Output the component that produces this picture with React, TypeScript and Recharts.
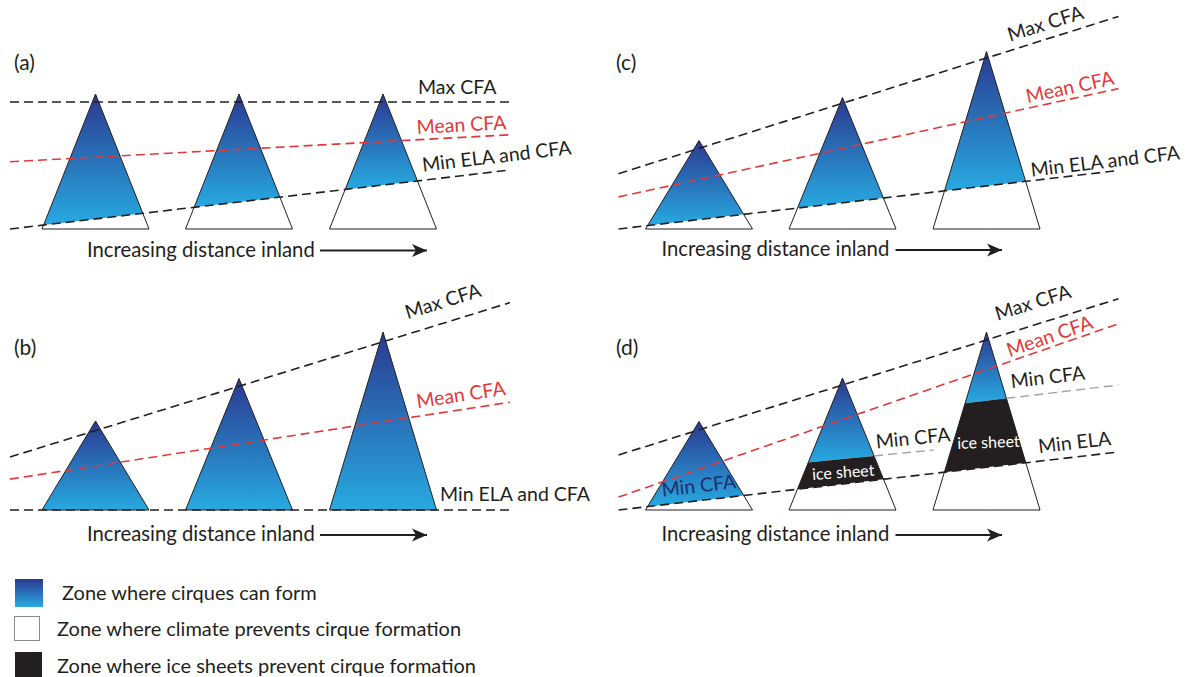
import React from "react";
import { ComposedChart, Area, Line, XAxis, YAxis, ReferenceDot } from "recharts";

const INK = "#231f20";
const RED = "#e2383a";
const GREY = "#a0a0a0";
const NAVY = "#1d2f6f";
const BLUE_TOP = "#2b3990";
const BLUE_BOTTOM = "#27aae1";
const FONT = "Lato, 'Open Sans', sans-serif";

// scale of every panel: 5 px per distance unit, 10 elevation units per px
const PX_PER_X = 5;
const PX_PER_Y = 0.1;
const PANEL_W = 593;
const PANEL_H = 280;
const Y_DOMAIN: [number, number] = [-510, -510 + PANEL_H / PX_PER_Y];
const X_DOMAIN_LEFT: [number, number] = [-2, -2 + PANEL_W / PX_PER_X];
const X_DOMAIN_RIGHT: [number, number] = [-4.1, -4.1 + PANEL_W / PX_PER_X];

// mountains (same distances in every panel)
const peakDistance = [17.1, 45.8, 74.6];
const baseHalfWidth = 10.7;
const peakHeightA = [1350, 1350, 1350];
const peakHeightB = [890, 1315, 1780];
const peakHeightC = [885, 1315, 1775];
const peakHeightD = [885, 1320, 1780];

// dashed lines, value at both ends of lineX
const lineXLeft = [0, 100];
const lineXRight = [1, 101];

const maxCfaA = [1270, 1270];
const meanCfaA = [673, 942];
const minElaA = [0, 590];

const maxCfaB = [530, 2074];
const meanCfaB = [309, 1078];
const minElaB = [0, 0];

const maxCfaC = [553, 2125];
const meanCfaC = [321, 1404];
const minElaC = [0, 585];

const maxCfaD = [550, 2113];
const meanCfaD = [129, 1862];
const minElaD = [0, 580];
// local Min CFA above the ice sheet, middle and inland peak of (d)
const minCfaD2X = [38, 64];
const minCfaD2 = [470, 600];
const minCfaD3X = [70, 101];
const minCfaD3 = [1065, 1250];

const arrowCaption = "Increasing distance inland";

const legendLabels = [
  "Zone where cirques can form",
  "Zone where climate prevents cirque formation",
  "Zone where ice sheets prevent cirque formation",
];

type Lin = { m: number; b: number };
const lin = (x0: number, y0: number, x1: number, y1: number): Lin => {
  const m = (y1 - y0) / (x1 - x0);
  return { m, b: y0 - m * x0 };
};
const at = (f: Lin, x: number) => f.m * x + f.b;
const cross = (f: Lin, g: Lin) => (g.b - f.b) / (f.m - g.m);
const angleOf = (xs: number[], ys: number[]) =>
  (-Math.atan((((ys[1] - ys[0]) / (xs[1] - xs[0])) * PX_PER_Y) / PX_PER_X) * 180) / Math.PI;

// part of a mountain between a floor and a ceiling line, as a ranged area
function zone(peak: number, height: number, floor?: Lin | null, ceiling?: Lin | null) {
  const xl = peak - baseHalfWidth;
  const xr = peak + baseHalfWidth;
  const lows: Lin[] = [{ m: 0, b: 0 }];
  if (floor) lows.push(floor);
  const highs: Lin[] = [lin(xl, 0, peak, height), lin(peak, height, xr, 0)];
  if (ceiling) highs.push(ceiling);
  const all = [...lows, ...highs];
  const xs = [xl, xr];
  for (let i = 0; i < all.length; i++)
    for (let j = i + 1; j < all.length; j++) {
      if (Math.abs(all[i].m - all[j].m) < 1e-9) continue;
      const x = cross(all[i], all[j]);
      if (x > xl && x < xr) xs.push(x);
    }
  xs.sort((a, b) => a - b);
  const out: { x: number; band: [number, number] }[] = [];
  xs.forEach((x) => {
    const lo = Math.max(...lows.map((f) => at(f, x)));
    const hi = Math.min(...highs.map((f) => at(f, x)));
    if (hi >= lo - 1e-6) out.push({ x, band: [lo, Math.max(lo, hi)] });
  });
  return out;
}

const seg = (xs: number[], ys: number[]) => xs.map((x, i) => ({ x, y: ys[i] }));

type Note = { text: string; x: number; y: number; angle?: number; color?: string; size?: number };

const textShape = (n: Note) => (p: any) => (
  <text
    x={p.cx}
    y={p.cy}
    fill={n.color ?? INK}
    fontSize={n.size ?? 19.5}
    fontFamily={FONT}
    transform={n.angle ? `rotate(${n.angle} ${p.cx} ${p.cy})` : undefined}
  >
    {n.text}
  </text>
);

const arrowHead = (p: any) => {
  if (p.index !== 1) return <g key={`ah-${p.index}`} />;
  const { cx, cy } = p;
  return (
    <polygon
      key={`ah-${p.index}`}
      points={`${cx},${cy} ${cx - 15},${cy - 6.5} ${cx - 11},${cy} ${cx - 15},${cy + 6.5}`}
      fill={INK}
    />
  );
};

interface PanelProps {
  id: string;
  xDomain: [number, number];
  lineX: number[];
  heights: number[];
  maxCfa: number[];
  meanCfa: number[];
  minEla: number[];
  cfaFloors?: ({ xs: number[]; ys: number[] } | null)[];
  notes: Note[];
  arrowX: number[];
  arrowY: number;
  captionX: number;
}

function Panel(props: PanelProps) {
  const { id, xDomain, lineX, heights, maxCfa, meanCfa, minEla, cfaFloors, notes, arrowX, arrowY, captionX } = props;
  const ela = lin(lineX[0], minEla[0], lineX[1], minEla[1]);
  const floors = peakDistance.map((_, i) => {
    const f = cfaFloors?.[i];
    return f ? lin(f.xs[0], f.ys[0], f.xs[1], f.ys[1]) : null;
  });
  const whole = peakDistance.map((p, i) => zone(p, heights[i]));
  const cirque = peakDistance.map((p, i) => zone(p, heights[i], floors[i] ?? ela));
  const ice = peakDistance.map((p, i) => (floors[i] ? zone(p, heights[i], ela, floors[i]) : []));
  // visible part of a local Min CFA line: from the right flank outwards
  const greyDashes = peakDistance.map((p, i) => {
    const f = floors[i];
    const spec = cfaFloors?.[i];
    if (!f || !spec) return null;
    const flank = lin(p, heights[i], p + baseHalfWidth, 0);
    const x0 = cross(f, flank);
    return [
      { x: x0, y: at(f, x0) },
      { x: spec.xs[1], y: spec.ys[1] },
    ];
  });

  const area = { type: "linear" as const, dataKey: "band", isAnimationActive: false, dot: false, activeDot: false };
  const dashed = { type: "linear" as const, dataKey: "y", isAnimationActive: false, dot: false, activeDot: false, strokeWidth: 1.6, strokeDasharray: "9 5" };

  return (
    <ComposedChart width={PANEL_W} height={PANEL_H} margin={{ top: 0, right: 0, bottom: 0, left: 0 }}>
      <defs>
        <linearGradient id={`cirque-${id}`} x1="0" y1="0" x2="0" y2="1">
          <stop offset="0" stopColor={BLUE_TOP} />
          <stop offset="1" stopColor={BLUE_BOTTOM} />
        </linearGradient>
      </defs>
      <XAxis type="number" dataKey="x" domain={xDomain} hide allowDataOverflow />
      <YAxis type="number" domain={Y_DOMAIN} hide allowDataOverflow />

      {whole.map((d, i) => (
        <Area key={`w${i}`} {...area} data={d} fill="#ffffff" fillOpacity={1} stroke="none" />
      ))}
      {cirque.map((d, i) =>
        d.length ? <Area key={`b${i}`} {...area} data={d} fill={`url(#cirque-${id})`} fillOpacity={1} stroke="none" /> : null
      )}
      {ice.map((d, i) =>
        d.length ? <Area key={`i${i}`} {...area} data={d} fill={INK} fillOpacity={1} stroke="none" /> : null
      )}
      {whole.map((d, i) => (
        <Area key={`o${i}`} {...area} data={d} fill="none" stroke={INK} strokeWidth={1} />
      ))}

      <Line key="max" {...dashed} data={seg(lineX, maxCfa)} stroke={INK} />
      <Line key="mean" {...dashed} data={seg(lineX, meanCfa)} stroke={RED} />
      <Line key="min" {...dashed} data={seg(lineX, minEla)} stroke={INK} />
      {greyDashes.map((d, i) =>
        d ? <Line key={`g${i}`} {...dashed} data={d} stroke={GREY} strokeWidth={1.4} /> : null
      )}

      <Line
        key="arrow"
        type="linear"
        dataKey="y"
        data={seg(arrowX, [arrowY, arrowY])}
        stroke={INK}
        strokeWidth={2}
        dot={arrowHead}
        activeDot={false}
        isAnimationActive={false}
      />
      <ReferenceDot x={captionX} y={arrowY - 62} r={0} shape={textShape({ text: arrowCaption, x: 0, y: 0, size: 20.3 })} />
      {notes.map((n, i) => (
        <ReferenceDot key={`n${i}`} x={n.x} y={n.y} r={0} shape={textShape(n)} />
      ))}
    </ComposedChart>
  );
}

const panelLetters = ["(a)", "(b)", "(c)", "(d)"];

export default function App() {
  const notesA: Note[] = [
    { text: "Max CFA", x: 81.6, y: 1350, angle: angleOf(lineXLeft, maxCfaA) },
    { text: "Mean CFA", x: 81.4, y: 950, angle: angleOf(lineXLeft, meanCfaA), color: RED },
    { text: "Min ELA and CFA", x: 82.6, y: 573, angle: angleOf(lineXLeft, minElaA) },
  ];
  const notesB: Note[] = [
    { text: "Max CFA", x: 79.5, y: 1907, angle: angleOf(lineXLeft, maxCfaB) },
    { text: "Mean CFA", x: 81.5, y: 1017, angle: angleOf(lineXLeft, meanCfaB), color: RED },
    { text: "Min ELA and CFA", x: 86, y: 93, angle: angleOf(lineXLeft, minElaB) },
  ];
  const notesC: Note[] = [
    { text: "Max CFA", x: 79.3, y: 1873, angle: angleOf(lineXRight, maxCfaC) },
    { text: "Mean CFA", x: 82.8, y: 1257, angle: angleOf(lineXRight, meanCfaC), color: RED },
    { text: "Min ELA and CFA", x: 83.6, y: 523, angle: angleOf(lineXRight, minElaC) },
  ];
  const notesD: Note[] = [
    { text: "Max CFA", x: 76.8, y: 1893, angle: angleOf(lineXRight, maxCfaD) },
    { text: "Mean CFA", x: 79.2, y: 1527, angle: angleOf(lineXRight, meanCfaD), color: RED },
    { text: "Min CFA", x: 79.6, y: 1217, angle: angleOf(minCfaD3X, minCfaD3) },
    { text: "Min ELA", x: 85.1, y: 567, angle: angleOf(lineXRight, minElaD) },
    { text: "Min CFA", x: 52.6, y: 615, angle: angleOf(minCfaD2X, minCfaD2) },
    { text: "Min CFA", x: 9.8, y: 133, angle: angleOf(lineXRight, minElaD), color: NAVY },
    { text: "ice sheet", x: 39.8, y: 300, angle: -4, color: "#ffffff", size: 16 },
    { text: "ice sheet", x: 68.8, y: 610, angle: -2, color: "#ffffff", size: 16 },
  ];

  const floorsD = [null, { xs: minCfaD2X, ys: minCfaD2 }, { xs: minCfaD3X, ys: minCfaD3 }];

  const legendSwatches: React.CSSProperties[] = [
    { left: 15, top: 579, width: 28, height: 28, background: `linear-gradient(${BLUE_TOP}, ${BLUE_BOTTOM})` },
    { left: 14, top: 616, width: 26, height: 25, background: "#fff", border: "1.5px solid #8a8a8a" },
    { left: 15, top: 652, width: 27, height: 27, background: INK },
  ];
  const legendText = [{ left: 62, top: 580 }, { left: 57, top: 616 }, { left: 57, top: 653 }];

  return (
    <div
      style={{
        position: "absolute",
        left: 0,
        top: 0,
        width: 1186,
        height: 677,
        background: "#fff",
        overflow: "hidden",
        fontFamily: FONT,
        color: INK,
      }}
    >
      <style>{".recharts-surface{overflow:visible}"}</style>
      <div style={{ position: "absolute", left: 0, top: 0 }}>
        <Panel id="a" xDomain={X_DOMAIN_LEFT} lineX={lineXLeft} heights={peakHeightA} maxCfa={maxCfaA} meanCfa={meanCfaA} minEla={minElaA} notes={notesA} arrowX={[62, 83.4]} arrowY={-215} captionX={15.4} />
      </div>
      <div style={{ position: "absolute", left: 0, top: 281 }}>
        <Panel id="b" xDomain={X_DOMAIN_LEFT} lineX={lineXLeft} heights={peakHeightB} maxCfa={maxCfaB} meanCfa={meanCfaB} minEla={minElaB} notes={notesB} arrowX={[62, 83.4]} arrowY={-250} captionX={15.4} />
      </div>
      <div style={{ position: "absolute", left: 593, top: 0 }}>
        <Panel id="c" xDomain={X_DOMAIN_RIGHT} lineX={lineXRight} heights={peakHeightC} maxCfa={maxCfaC} meanCfa={meanCfaC} minEla={minElaC} notes={notesC} arrowX={[56.4, 77.7]} arrowY={-210} captionX={9.6} />
      </div>
      <div style={{ position: "absolute", left: 593, top: 281 }}>
        <Panel id="d" xDomain={X_DOMAIN_RIGHT} lineX={lineXRight} heights={peakHeightD} maxCfa={maxCfaD} meanCfa={meanCfaD} minEla={minElaD} cfaFloors={floorsD} notes={notesD} arrowX={[56.4, 77.7]} arrowY={-250} captionX={9.6} />
      </div>

      {panelLetters.map((t, i) => (
        <div
          key={t}
          style={{
            position: "absolute",
            left: i < 2 ? 14 : 616,
            top: i % 2 === 0 ? 51 : 336,
            fontSize: 21,
            lineHeight: "21px",
          }}
        >
          {t}
        </div>
      ))}

      {legendSwatches.map((s, i) => (
        <div key={`s${i}`} style={{ position: "absolute", boxSizing: "border-box", ...s }} />
      ))}
      {legendLabels.map((t, i) => (
        <div key={t} style={{ position: "absolute", fontSize: 20, lineHeight: "24px", ...legendText[i] }}>
          {t}
        </div>
      ))}
    </div>
  );
}
